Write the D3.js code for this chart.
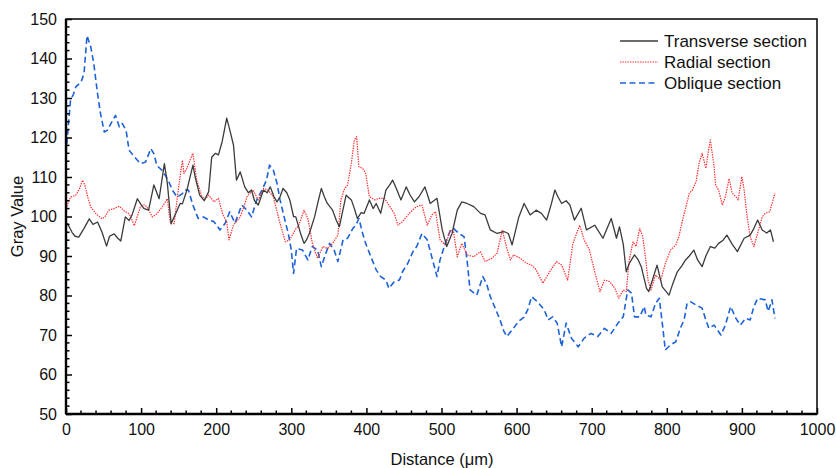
<!DOCTYPE html>
<html>
<head>
<meta charset="utf-8">
<script src="https://cdn.jsdelivr.net/npm/d3@7"></script>
<style>
  body { margin: 0; background: #fff; }
  svg { display: block; font-family: "Liberation Sans", Arial, sans-serif; }
</style>
</head>
<body>
<svg width="836" height="468"></svg>
<script>
// data: [distance (µm), gray value]
var transverse = [[0,98],[2,98.2],[8,96],[12,95],[17,94.8],[24,97],[31,99.4],[36,98],[42,98.6],[48,96],[54,92.5],[58,95],[64,95.6],[69,94.5],[73,93.8],[79,99.9],[84,99],[88,100.4],[95,104.5],[100,103],[104,102],[110,101.6],[117,108],[124,104.5],[131,113.4],[135,108.3],[140,98.2],[146,100.7],[152,103.3],[155,103.2],[161,106.7],[169,113],[172,110],[178,105.4],[184,104],[190,106.3],[194,115],[199,116],[203,115.6],[208,119],[214,124.9],[218,122],[223,118.1],[227,109.2],[232,111.3],[238,107.5],[243,106],[247,106.7],[251,104],[256,102.9],[263,106.7],[268,106],[272,107.5],[277,105],[281,103.7],[285,105],[289,107.1],[294,106],[298,104.2],[303,100],[306,99.9],[313,95.3],[317,93.2],[320,94],[324,95.7],[331,99.9],[336,104],[340,107.1],[344,105],[348,103.3],[355,101.6],[360,99],[364,97.4],[368,101],[373,105.4],[380,104.2],[384,102],[388,99.5],[393,101],[397,100.8],[404,104.2],[409,102],[413,103.3],[419,100.8],[426,106.7],[431,108],[435,109.2],[440,107],[446,104.2],[453,107.5],[458,105.5],[464,103.7],[470,105],[478,107.5],[485,103.3],[494,104.6],[501,96.6],[507,92.4],[514,95.7],[521,101.6],[527,103.7],[534,103.3],[543,102.5],[552,100.8],[558,100.4],[565,96.6],[574,95.7],[583,96.2],[589,95.7],[594,92.8],[603,99.9],[610,103.3],[618,100.4],[626,101.6],[633,100.8],[640,99.1],[646,103],[651,106.7],[655,105],[660,103.3],[666,104],[671,102.9],[677,99.1],[686,102.1],[693,96.6],[704,97.8],[715,94.5],[726,99.5],[733,94.5],[737,97.4],[742,93],[746,86],[750,88.1],[757,90.3],[762,89],[766,87.3],[773,81.8],[776,81],[781,84],[787,87.7],[794,82.2],[803,80.1],[808,83],[814,86],[820,87.5],[825,89],[830,90],[836,91.5],[841,89],[847,87.3],[852,90],[858,92.4],[864,92],[869,93.2],[875,94],[880,95.3],[887,93],[894,91.1],[903,94.5],[911,95.3],[916,97],[921,99.1],[927,96.6],[933,95.8],[938,96.6],[942,93.6]];

var radial = [[0,102],[6,104.9],[13,105.4],[18,107],[22,109.2],[25,108],[29,104.9],[33,102.4],[40,100.7],[48,99.4],[52,100],[57,101.6],[64,102],[71,102.6],[77,101.5],[84,100.7],[91,97.7],[99,102.4],[104,103],[108,102.4],[115,99.9],[121,100.7],[128,102.4],[135,104.5],[139,98.2],[144,98.2],[150,107.5],[155,114.2],[157,110.9],[161,112.2],[167,115.1],[169,116],[174,109.2],[181,105],[186,104.5],[190,105.4],[197,103.7],[203,104.6],[209,100.4],[214,98.7],[217,94.1],[223,97.8],[232,99.9],[236,102],[241,105],[249,106.7],[256,104.2],[263,107.1],[269,106.7],[276,105],[280,102],[285,98.3],[292,93.6],[298,94.1],[305,96.6],[310,97.8],[317,101.6],[322,99.5],[328,93.2],[335,89.4],[342,92.4],[348,91.9],[355,93.2],[362,95.3],[366,104.2],[371,107.1],[375,108],[380,113.5],[384,119.4],[387,120.2],[390,112.6],[395,112.2],[399,110.9],[404,105],[411,104.2],[417,104.6],[424,104.6],[430,102.9],[437,100.8],[442,97.8],[448,98.7],[457,100.8],[464,102.1],[467,102.5],[474,102.9],[481,97.8],[487,100.4],[492,101.2],[498,94.1],[505,92.8],[512,96.6],[516,96.2],[521,89.8],[527,93.2],[534,90.3],[543,89.8],[552,91.1],[558,88.6],[567,89.4],[574,90.7],[581,96.6],[587,91.9],[592,89],[596,90.3],[605,89.4],[614,88.1],[620,87.7],[626,86.5],[635,83.1],[644,86],[653,88.6],[660,87.7],[668,83.9],[675,93.2],[684,97.8],[690,94.1],[697,91.5],[704,86],[711,81],[717,83.9],[724,83.5],[731,81.8],[736,79.3],[742,81.4],[746,81],[750,89],[755,93.6],[759,92.4],[764,97],[768,94.9],[772,89],[775,83.9],[779,81.4],[785,85.2],[792,83.9],[798,88.1],[805,91.5],[812,92.8],[816,94.9],[821,99.1],[825,102.1],[830,105.9],[834,106.7],[839,108.8],[843,113.5],[847,116],[852,112.2],[856,117.3],[858,119.4],[863,112.6],[865,108],[869,106.7],[874,102.9],[878,105],[883,109.6],[887,105.9],[892,105],[895,104.2],[900,110.1],[903,106.7],[907,99.9],[911,94.9],[916,92.4],[922,96.5],[927,99.9],[931,100.8],[937,101.2],[944,105.9]];

var oblique = [[0,115.9],[2,120.5],[6,129.4],[10,131],[13,132.8],[20,134],[24,136.2],[28,145.8],[33,142.9],[37,138.7],[42,131.1],[46,126],[51,121.4],[55,121.8],[62,124.3],[66,125.6],[71,122.7],[75,123.5],[80,121.8],[84,116.8],[91,115.1],[99,113.4],[106,113.8],[113,117.2],[117,115.9],[121,112.9],[128,111.7],[135,109.6],[142,106.6],[148,104.9],[155,105.8],[158,106.7],[163,106.7],[169,102.9],[176,99.5],[183,99.9],[190,99.1],[197,98.7],[205,96.6],[212,98.3],[218,101.2],[225,98.3],[234,102.9],[241,101.6],[247,99.9],[254,104.2],[261,106.7],[267,109.2],[271,113],[276,111.8],[281,108.4],[285,104.2],[292,98.7],[296,95.7],[300,91.5],[303,85.6],[307,91.9],[315,91.5],[322,89],[328,92.4],[335,91.5],[340,87.3],[346,90.7],[351,93.2],[357,91.5],[362,88.6],[369,94.1],[375,94.5],[382,97],[386,97.8],[390,99.5],[395,95.7],[399,93.2],[406,89.8],[413,86.5],[419,84.8],[426,83.9],[430,81.8],[437,83.5],[444,83.9],[448,86],[455,88.1],[462,91.1],[467,92.4],[474,95.7],[481,94.1],[487,89.8],[494,84.8],[498,89],[505,93.2],[512,96.6],[516,97],[523,95.7],[530,94.9],[534,89],[538,81.4],[547,80.1],[555,84.8],[560,83],[565,79.7],[571,77],[578,73.8],[583,71],[587,69.6],[595,71.5],[603,73.5],[610,74.5],[615,76.5],[620,79.7],[628,78.4],[637,76.3],[642,73.8],[648,74.6],[654,73],[660,67],[666,73],[673,69.2],[682,67],[690,69.2],[699,70.4],[708,69.6],[717,71.7],[726,70.4],[735,73],[742,74.6],[748,81.4],[753,80.6],[757,74.6],[764,74.6],[770,77.2],[772,75.1],[779,74.6],[785,78],[790,79.3],[794,73],[798,66.2],[805,67.5],[812,68.3],[818,71.7],[823,73.8],[827,78],[832,78.4],[839,77.6],[847,76.8],[852,73.8],[856,71.7],[863,72.5],[872,70],[878,72.5],[885,77.2],[892,74.2],[898,72.5],[905,74.2],[911,73.8],[916,77.2],[921,79.3],[931,78.9],[935,76],[940,78.9],[944,74.2]];

var seriesNames = ["Transverse section", "Radial section", "Oblique section"];
var xTicks = [0, 100, 200, 300, 400, 500, 600, 700, 800, 900, 1000];
var yTicks = [50, 60, 70, 80, 90, 100, 110, 120, 130, 140, 150];

var svg = d3.select("svg"),
    margin = {top: 19, right: 19, bottom: 54, left: 66},
    width = +svg.attr("width") - margin.left - margin.right,
    height = +svg.attr("height") - margin.top - margin.bottom;

var x = d3.scaleLinear().domain([0, 1000]).range([0, width]);
var y = d3.scaleLinear().domain([50, 150]).range([height, 0]);

var g = svg.append("g")
    .attr("transform", "translate(" + margin.left + "," + margin.top + ")");

// styles per series
var styles = [
  {data: transverse, color: "#3b3b3b", width: 1.3, dash: null},
  {data: radial, color: "#ff2b2b", width: 1.2, dash: "1.4,1.1"},
  {data: oblique, color: "#1c62d8", width: 1.6, dash: "6,3.5"}
];

var line = d3.line()
    .x(function(d) { return x(d[0]); })
    .y(function(d) { return y(d[1]); });

[2, 1, 0].forEach(function(i) {
  var s = styles[i];
  g.append("path")
    .datum(s.data)
    .attr("fill", "none")
    .attr("stroke", s.color)
    .attr("stroke-width", s.width)
    .attr("stroke-dasharray", s.dash)
    .attr("stroke-linejoin", "round")
    .attr("d", line);
});

// axes, ticks inside
var xAxis = d3.axisBottom(x).tickValues(xTicks).tickFormat(d3.format("d")).tickSize(-6).tickPadding(10);
var yAxis = d3.axisLeft(y).tickValues(yTicks).tickFormat(d3.format("d")).tickSize(-6).tickPadding(9);

var gx = g.append("g").attr("transform", "translate(0," + height + ")").call(xAxis);
var gy = g.append("g").call(yAxis);

// minor ticks
var xMinor = d3.range(20, 1000, 20).filter(function(v) { return v % 100 != 0; });
var yMinor = d3.range(52, 150, 2).filter(function(v) { return v % 10 != 0; });
g.append("g").selectAll("line").data(xMinor).enter().append("line")
    .attr("x1", function(d) { return x(d); }).attr("x2", function(d) { return x(d); })
    .attr("y1", height).attr("y2", height - 3.5)
    .attr("stroke", "#000").attr("stroke-width", 1.5);
g.append("g").selectAll("line").data(yMinor).enter().append("line")
    .attr("y1", function(d) { return y(d); }).attr("y2", function(d) { return y(d); })
    .attr("x1", 0).attr("x2", 3.5)
    .attr("stroke", "#000").attr("stroke-width", 1.5);

[gx, gy].forEach(function(a) {
  a.select(".domain").remove();
  a.selectAll(".tick line").attr("stroke", "#000").attr("stroke-width", 1.5);
  a.selectAll(".tick text").attr("fill", "#111").style("font-size", "16px")
    .style("font-family", "Liberation Sans, Arial, sans-serif");
});

// frame
g.append("rect")
    .attr("width", width).attr("height", height)
    .attr("fill", "none").attr("stroke", "#111").attr("stroke-width", 1.6);
g.append("line").attr("x1", 0).attr("x2", 0).attr("y1", 0).attr("y2", height)
    .attr("stroke", "#000").attr("stroke-width", 2.4);
g.append("line").attr("x1", 0).attr("x2", width).attr("y1", height).attr("y2", height)
    .attr("stroke", "#000").attr("stroke-width", 2.4);

// axis titles
svg.append("text")
    .attr("x", 442)
    .attr("y", 465)
    .attr("text-anchor", "middle")
    .style("font-size", "16.5px").attr("fill", "#111")
    .text("Distance (μm)");
svg.append("text")
    .attr("transform", "translate(23," + (margin.top + height / 2) + ") rotate(-90)")
    .attr("text-anchor", "middle")
    .style("font-size", "16.5px").attr("fill", "#111")
    .text("Gray Value");

// legend
var legend = svg.append("g").attr("transform", "translate(620,41)");
styles.forEach(function(s, i) {
  var row = legend.append("g").attr("transform", "translate(0," + (i * 21) + ")");
  row.append("line")
    .attr("x1", 0).attr("x2", 38).attr("y1", 0).attr("y2", 0)
    .attr("stroke", s.color).attr("stroke-width", s.width)
    .attr("stroke-dasharray", s.dash);
  row.append("text")
    .attr("x", 44).attr("y", 6)
    .style("font-size", "17px").attr("fill", "#111")
    .text(seriesNames[i]);
});
</script>
</body>
</html>
